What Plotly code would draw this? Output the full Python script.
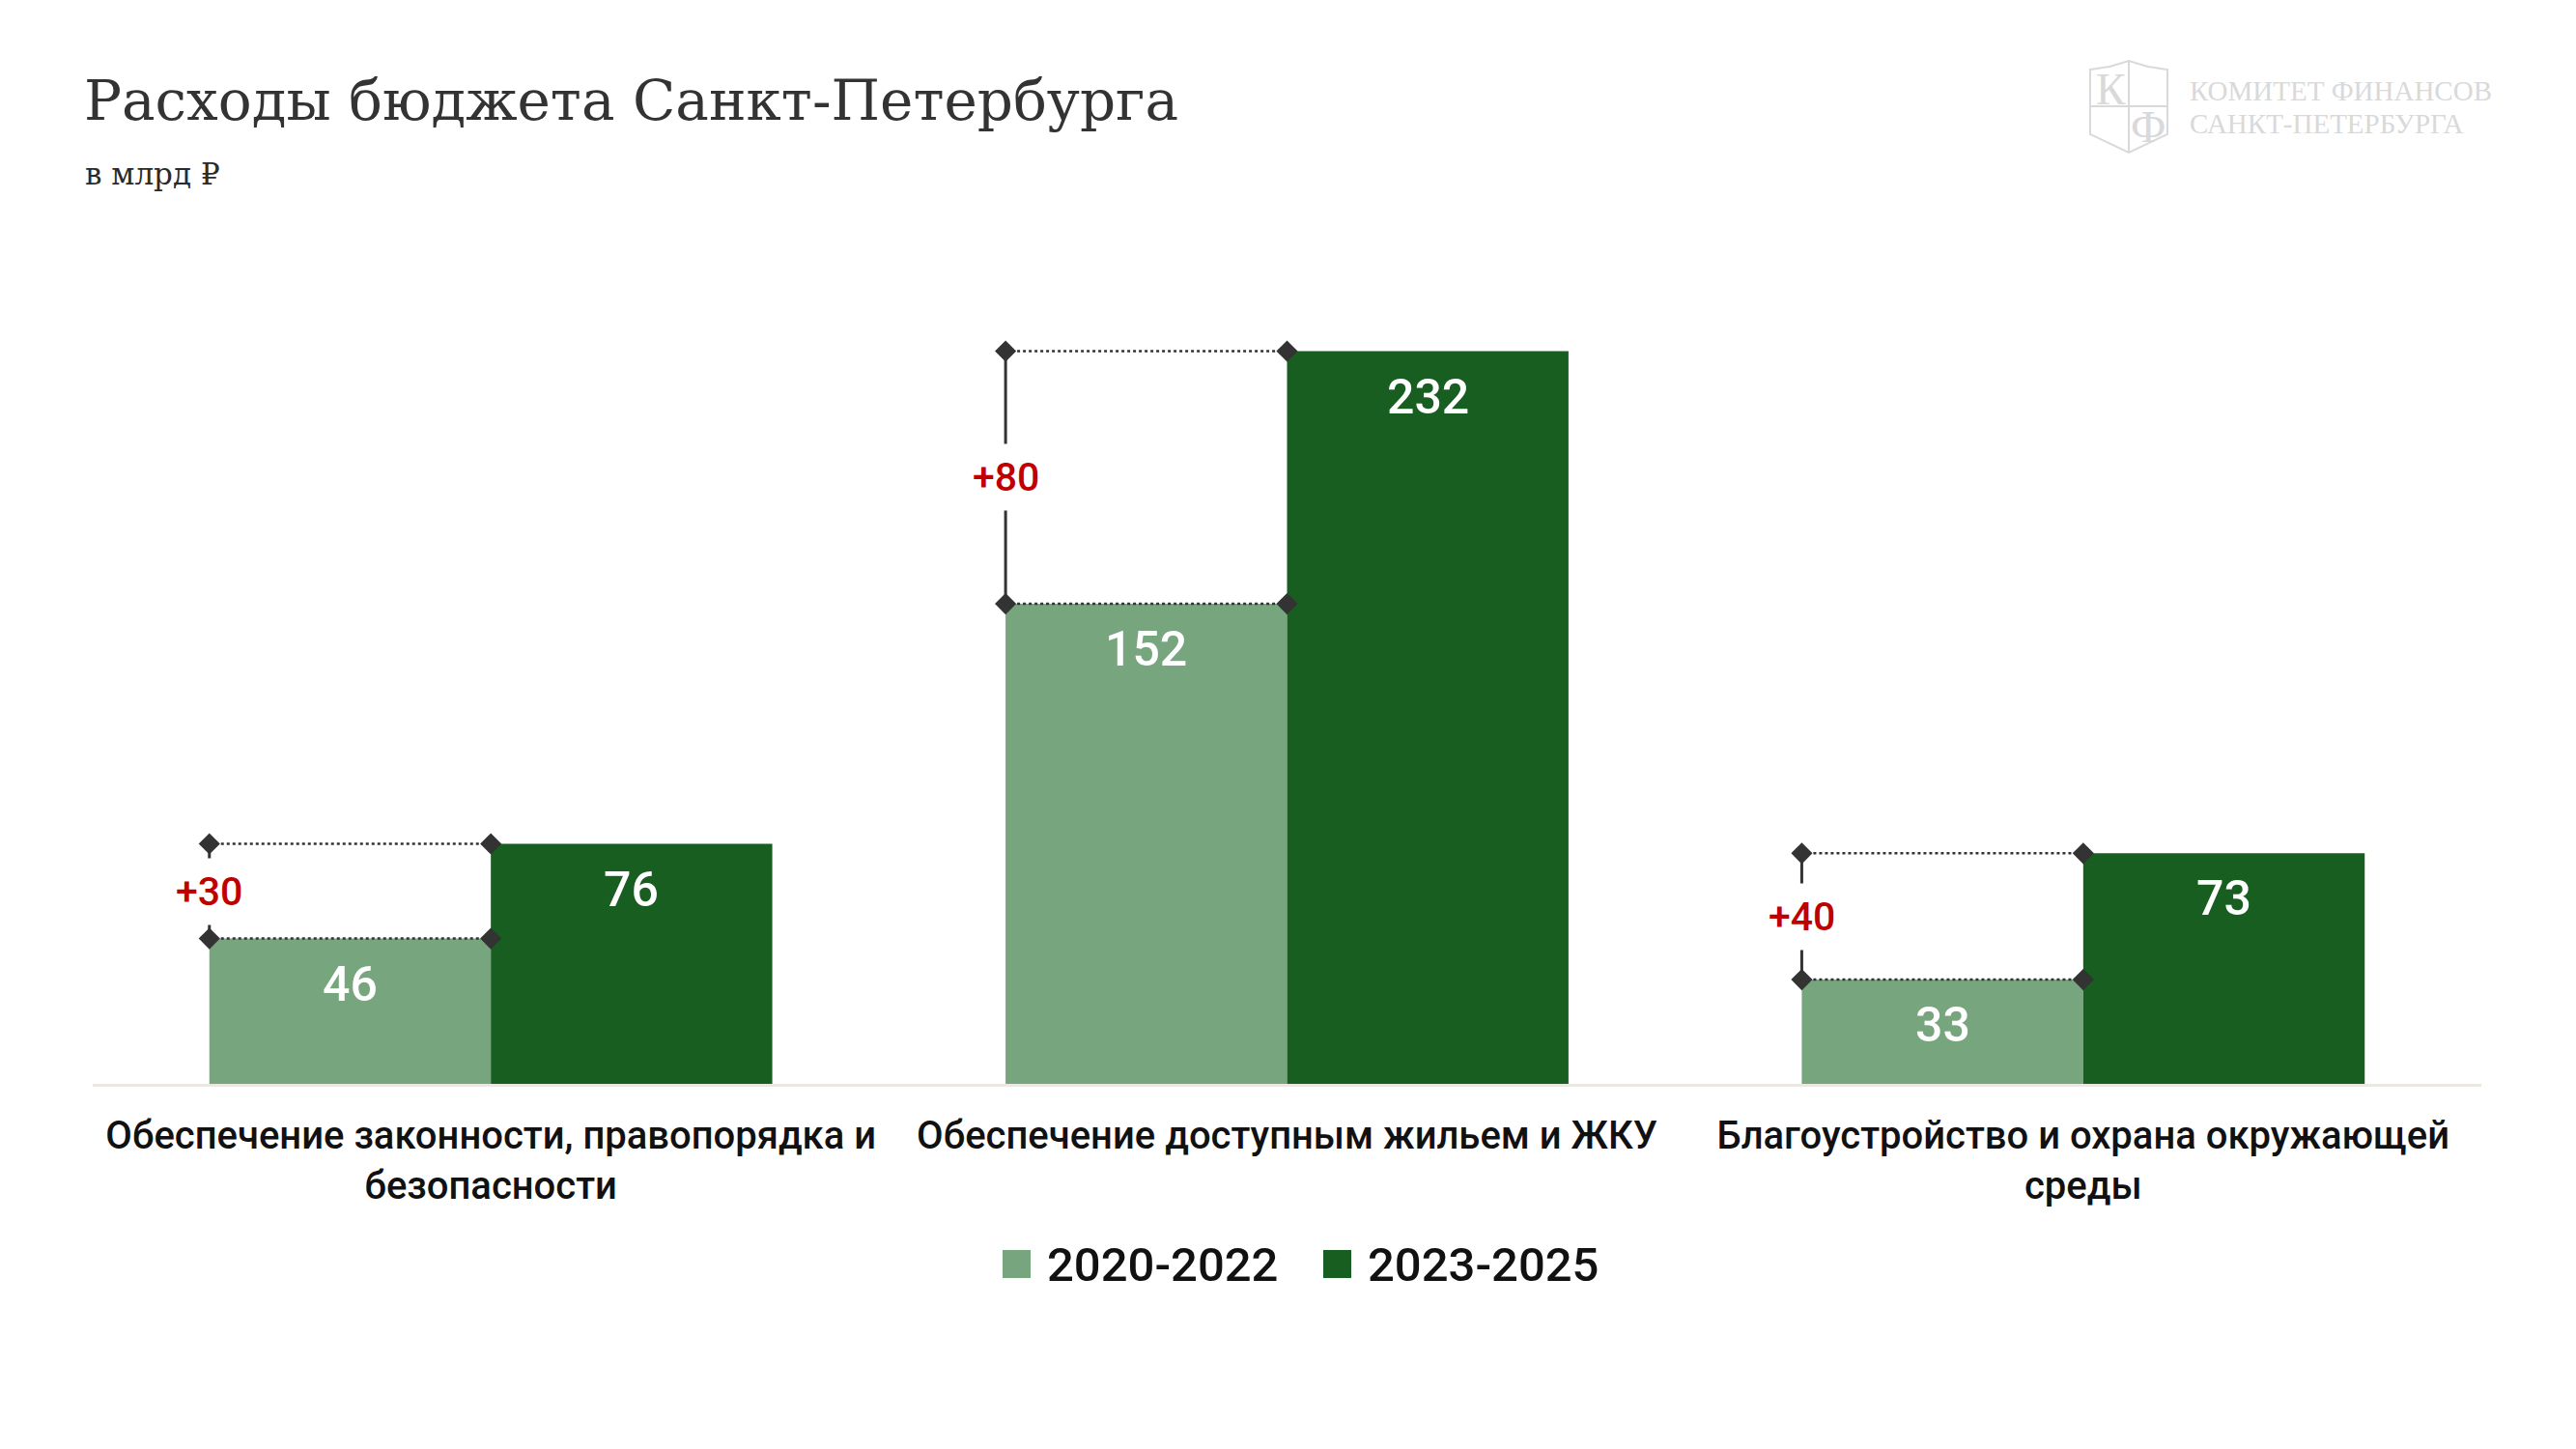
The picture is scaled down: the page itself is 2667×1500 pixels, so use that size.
import plotly.graph_objects as go

# chart data
categories = [
    "Обеспечение законности, правопорядка и<br>безопасности",
    "Обеспечение доступным жильем и ЖКУ",
    "Благоустройство и охрана окружающей<br>среды",
]
series_names = ["2020-2022", "2023-2025"]
values_2020_2022 = [46, 152, 33]
values_2023_2025 = [76, 232, 73]

LIGHT = "#76a57e"
DARK = "#175e20"
INK = "#333333"
RED = "#c00000"
LOGO = "#d9d9d9"

W, H = 2667, 1500
L, R, T, B = 88, 106, 264, 386
BARGAP = 0.293
half = (1 - BARGAP) / 2  # one bar, in category units


def px(x):
    return (x - L) / (W - L - R)


def py(y):
    return (H - B - y) / (H - T - B)


xs = list(range(len(categories)))
colors = [LIGHT, DARK]

fig = go.Figure()
fig.add_trace(go.Bar(x=xs, y=values_2020_2022, name=series_names[0],
                     marker=dict(color=LIGHT, line_width=0), hoverinfo="skip"))
fig.add_trace(go.Bar(x=xs, y=values_2023_2025, name=series_names[1],
                     marker=dict(color=DARK, line_width=0), hoverinfo="skip"))

# diamonds at the ends of the dotted lines
dx, dy = [], []
for i, (lo, hi) in enumerate(zip(values_2020_2022, values_2023_2025)):
    dx += [i - half, i, i - half, i]
    dy += [lo, lo, hi, hi]
fig.add_trace(go.Scatter(x=dx, y=dy, mode="markers", showlegend=False, hoverinfo="skip",
                         marker=dict(symbol="diamond", size=17, color=INK)))

shapes = []
annotations = []
for i, (lo, hi) in enumerate(zip(values_2020_2022, values_2023_2025)):
    for v in (lo, hi):
        shapes.append(dict(type="line", xref="x", yref="y", x0=i - half, x1=i, y0=v, y1=v,
                           line=dict(color=INK, width=2.5, dash="dot")))
    shapes.append(dict(type="line", xref="x", yref="y", x0=i - half, x1=i - half, y0=lo, y1=hi,
                       line=dict(color=INK, width=3)))
    annotations.append(dict(x=i - half, y=(lo + hi) / 2, xref="x", yref="y", showarrow=False,
                            yanchor="middle", text=f"+{hi - lo}", bgcolor="white", borderpad=10,
                            font=dict(family="Roboto", size=41, color=RED, weight=500)))
    annotations.append(dict(x=i - half / 2, y=lo, xref="x", yref="y", showarrow=False, yshift=-47,
                            yanchor="middle", text=str(lo),
                            font=dict(family="Roboto", size=50, color="white", weight=500)))
    annotations.append(dict(x=i + half / 2, y=hi, xref="x", yref="y", showarrow=False, yshift=-47,
                            yanchor="middle", text=str(hi),
                            font=dict(family="Roboto", size=50, color="white", weight=500)))

# subtitle
annotations.append(dict(x=px(78), y=py(172), xref="paper", yref="paper", xanchor="left",
                        yanchor="middle", showarrow=False, text="в млрд ₽",
                        font=dict(family="DejaVu Serif", size=31, color="#2b2b2b")))

# legend drawn by hand so the squares can match the reference size
leg_sq = [1030, 1362]
leg_tx = [1074, 1406]
for k in range(2):
    shapes.append(dict(type="rect", xref="paper", yref="paper",
                       x0=px(leg_sq[k]), x1=px(leg_sq[k] + 29), y0=py(1286), y1=py(1315),
                       fillcolor=colors[k], line_width=0))
    annotations.append(dict(x=px(leg_tx[k]), y=py(1301), xref="paper", yref="paper",
                            xanchor="left", yanchor="middle", showarrow=False,
                            text=series_names[k],
                            font=dict(family="Roboto", size=49, color="#111111", weight=500)))

# logo in the top right corner
annotations.append(dict(x=px(2257), y=py(86), xref="paper", yref="paper", xanchor="left",
                        yanchor="middle", showarrow=False, text="КОМИТЕТ ФИНАНСОВ",
                        font=dict(family="Liberation Serif", size=29, color=LOGO)))
annotations.append(dict(x=px(2257), y=py(120), xref="paper", yref="paper", xanchor="left",
                        yanchor="middle", showarrow=False, text="САНКТ-ПЕТЕРБУРГА",
                        font=dict(family="Liberation Serif", size=29, color=LOGO)))
annotations.append(dict(x=px(2177), y=py(84), xref="paper", yref="paper", showarrow=False,
                        xanchor="center", yanchor="middle", text="К",
                        font=dict(family="Liberation Serif", size=46, color=LOGO)))
annotations.append(dict(x=px(2216), y=py(123), xref="paper", yref="paper", showarrow=False,
                        xanchor="center", yanchor="middle", text="Ф",
                        font=dict(family="Liberation Serif", size=46, color=LOGO)))

shield = [(2156, 64), (2176, 61), (2196, 55), (2216, 61), (2236, 64), (2236, 131),
          (2196, 150), (2156, 131)]
path = "M " + " L ".join(f"{px(a):.4f},{py(b):.4f}" for a, b in shield) + " Z"
shapes.append(dict(type="path", xref="paper", yref="paper", path=path,
                   line=dict(color=LOGO, width=2)))
shapes.append(dict(type="line", xref="paper", yref="paper", x0=px(2196), x1=px(2196),
                   y0=py(55), y1=py(150), line=dict(color=LOGO, width=2)))
shapes.append(dict(type="line", xref="paper", yref="paper", x0=px(2156), x1=px(2236),
                   y0=py(102), y1=py(102), line=dict(color=LOGO, width=2)))

fig.update_layout(
    width=W, height=H,
    margin=dict(l=L, r=R, t=T, b=B, autoexpand=False),
    paper_bgcolor="white", plot_bgcolor="white",
    barmode="group", bargap=BARGAP, bargroupgap=0,
    title=dict(text="Расходы бюджета Санкт-Петербурга", xref="container", yref="container",
               x=79 / W, xanchor="left", y=1 - 96 / H, yanchor="middle",
               font=dict(family="DejaVu Serif", size=58, color="#333333")),
    shapes=shapes,
    annotations=annotations,
    showlegend=False,
)
fig.update_xaxes(range=[-0.5, 2.5], tickvals=xs, ticktext=categories, showgrid=False,
                 zeroline=False, showline=True, linecolor="#ebe8e3", linewidth=3,
                 ticks="outside", ticklen=16, tickcolor="rgba(0,0,0,0)",
                 tickfont=dict(family="Roboto", size=40, color="#111111", weight=500),
                 fixedrange=True)
fig.update_yaxes(range=[0, 260], visible=False, fixedrange=True)

fig.write_html("out.html")
